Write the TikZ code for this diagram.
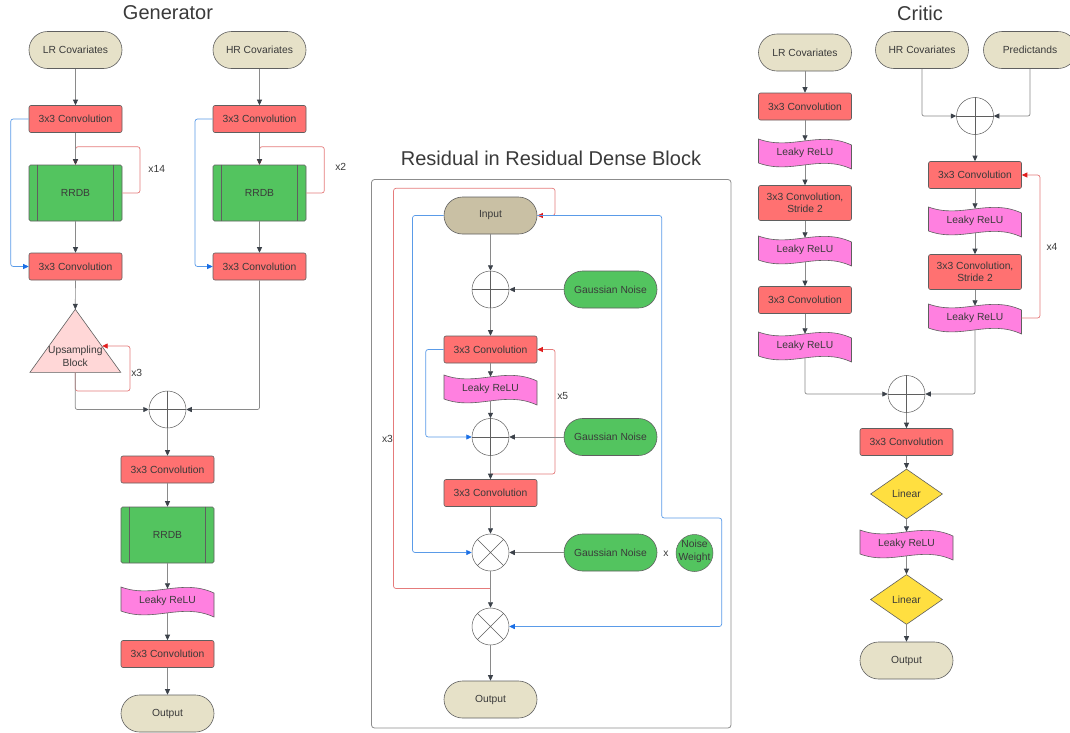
\documentclass[tikz,border=0pt]{standalone}
\usepackage{fontspec}
\setmainfont{Liberation Sans}
\usetikzlibrary{arrows.meta,shapes.geometric,calc}
\definecolor{txt}{HTML}{3A3A3A}
\definecolor{bord}{HTML}{5F5F5F}
\definecolor{beige}{HTML}{E6E1C8}
\definecolor{inputtan}{HTML}{C9C0A4}
\definecolor{convred}{HTML}{FF7171}
\definecolor{rrdbgreen}{HTML}{53C45F}
\definecolor{relupink}{HTML}{FF80E0}
\definecolor{linyellow}{HTML}{FFDF40}
\definecolor{uppink}{HTML}{FFD7D7}
\definecolor{linegray}{HTML}{8A8A8A}
\definecolor{headgray}{HTML}{3C424A}
\definecolor{loopred}{HTML}{E57B7B}
\definecolor{headred}{HTML}{E01E1E}
\definecolor{loopblue}{HTML}{5A9BE8}
\definecolor{headblue}{HTML}{1A6FE6}
\definecolor{framegray}{HTML}{8C8C8C}
\tikzset{
 lbl/.style={font=\fontsize{10.3}{12.4}\selectfont, text=txt},
 box/.style={lbl, draw=bord, line width=0.6pt, minimum width=93pt, inner sep=1pt, align=center},
 conv/.style={box, fill=convred, rounded corners=2pt, minimum height=27pt},
 convtwo/.style={conv, minimum height=35pt},
 pill/.style={box, fill=beige, rounded corners=18.5pt, minimum height=37pt},
 noise/.style={pill, fill=rrdbgreen},
 rrdb/.style={box, fill=rrdbgreen, rounded corners=1.5pt, minimum height=56pt},
 circ/.style={circle, draw=bord, line width=0.5pt, minimum size=37pt, inner sep=0pt},
 crossline/.style={draw=bord, line width=0.5pt},
 lin/.style={diamond, aspect=1.4, draw=bord, fill=linyellow, line width=0.6pt, minimum width=72pt, minimum height=50pt, inner sep=0pt, lbl},
 ttl/.style={font=\fontsize{20}{24}\selectfont, text=txt},
 conn/.style={draw=linegray, line width=0.7pt, rounded corners=2pt, -{Triangle[length=5.5pt,width=5pt,color=headgray]}},
 redloop/.style={draw=loopred, line width=0.7pt, rounded corners=2.5pt, -{Triangle[length=5.5pt,width=5pt,color=headred]}},
 blueloop/.style={draw=loopblue, line width=0.7pt, rounded corners=2.5pt, -{Triangle[length=5.5pt,width=5pt,color=headblue]}},
}
\newcommand\myrelu[3]{%
 \filldraw[fill=relupink, draw=bord, line width=0.6pt]
 ({#2-46.5},{#3-14}) .. controls ({#2-14},{#3-2}) and ({#2+14},{#3-23}) .. ({#2+46.5},{#3-8})
 -- ({#2+46.5},{#3+16}) .. controls ({#2+14},{#3+1}) and ({#2-14},{#3+22}) .. ({#2-46.5},{#3+10}) -- cycle;
 \node[lbl, minimum width=93pt, minimum height=24pt, inner sep=0pt] (#1) at (#2,#3) {Leaky ReLU};}
\newcommand\myrrdblines[1]{%
 \draw[bord, line width=0.6pt] ([xshift=9pt]#1.north west) -- ([xshift=9pt]#1.south west)
   ([xshift=-9pt]#1.north east) -- ([xshift=-9pt]#1.south east);}
\newcommand\myplus[1]{\draw[crossline] (#1.north) -- (#1.south) (#1.west) -- (#1.east);}
\newcommand\mytimes[1]{\draw[crossline] (#1.north west) -- (#1.south east) (#1.north east) -- (#1.south west);}
\begin{document}
\begin{tikzpicture}[x=1pt,y=-1pt]
\useasboundingbox (0,0) rectangle (1070,732);
\clip (0,0) rectangle (1070,732);
\fill[white] (0,0) rectangle (1070,732);

% ---------------- Generator ----------------
\node[ttl] (tg) at (168,13) {Generator};
\node[pill] (glr) at (75.5,50) {LR Covariates};
\node[pill] (ghr) at (259.5,50) {HR Covariates};
\node[conv] (gc1) at (75.5,119) {3x3 Convolution};
\node[conv] (hc1) at (259.5,119) {3x3 Convolution};
\node[rrdb] (gr1) at (75.5,193) {RRDB};
\node[rrdb] (hr1) at (259.5,193) {RRDB};
\myrrdblines{gr1}
\myrrdblines{hr1}
\node[conv] (gc2) at (75.5,266.5) {3x3 Convolution};
\node[conv] (hc2) at (259.5,266.5) {3x3 Convolution};
\filldraw[fill=uppink, draw=bord, line width=0.6pt] (75.3,309.3) -- (120.7,372.3) -- (30,372.3) -- cycle;
\coordinate (upa) at (75.3,309.3);
\coordinate (upb) at (75.3,372.3);
\coordinate (upr) at (102.2,346);
\node[lbl, align=center] (upt) at (75.3,356.5) {Upsampling\\Block};
\node[circ] (gp) at (167.5,409.5) {};
\myplus{gp}
\node[conv] (gc3) at (167.5,469.5) {3x3 Convolution};
\node[rrdb] (gr2) at (167.5,535) {RRDB};
\myrrdblines{gr2}
\myrelu{grl}{167.5}{601}
\node[conv] (gc4) at (167.5,654) {3x3 Convolution};
\node[pill] (gout) at (167.5,713.5) {Output};

\draw[redloop] (gr1.east) -- (140,193) -- (140,146.7) -- (75.5,146.7) -- (gr1.north);
\draw[redloop] (hr1.east) -- (324.3,193) -- (324.3,146.7) -- (259.5,146.7) -- (hr1.north);
\draw[redloop] (upb) -- (75.3,391) -- (130,391) -- (130,346) -- (upr);
\draw[blueloop] (gc1.west) -- (10.7,119) -- (10.7,266.5) -- (gc2.west);
\draw[blueloop] (hc1.west) -- (195,119) -- (195,266.5) -- (hc2.west);
\draw[conn] (glr) -- (gc1);
\draw[conn] (ghr) -- (hc1);
\draw[conn] (gc1) -- (gr1);
\draw[conn] (hc1) -- (hr1);
\draw[conn] (gr1) -- (gc2);
\draw[conn] (hr1) -- (hc2);
\draw[conn] (gc2) -- (upa);
\draw[conn] (upb) |- (gp.west);
\draw[conn] (hc2.south) |- (gp.east);
\draw[conn] (gp) -- (gc3);
\draw[conn] (gc3) -- (gr2);
\draw[conn] (gr2) -- (grl);
\draw[conn] (grl) -- (gc4);
\draw[conn] (gc4) -- (gout);
\node[lbl] (g14) at (156.7,169) {x14};
\node[lbl] (g2) at (340.7,167) {x2};
\node[lbl] (g3) at (136.7,372.7) {x3};

% ---------------- Residual in Residual Dense Block ----------------
\node[ttl] (tr) at (551,158) {Residual in Residual Dense Block};
\node[draw=framegray, line width=0.8pt, rounded corners=3pt, minimum width=359.5pt, minimum height=548.5pt, inner sep=0pt] (frame) at (551.25,453.75) {};
\node[pill, fill=inputtan] (rin) at (490.5,215.5) {Input};
\node[circ] (rp1) at (490.5,289.5) {};
\myplus{rp1}
\node[noise] (rn1) at (610.5,289.5) {Gaussian Noise};
\node[conv] (rc1) at (490.5,349.5) {3x3 Convolution};
\myrelu{rrl}{490.5}{389}
\node[circ] (rp2) at (490.5,437) {};
\myplus{rp2}
\node[noise] (rn2) at (610.5,437) {Gaussian Noise};
\node[conv] (rc2) at (490.5,493) {3x3 Convolution};
\node[circ] (rm1) at (490.5,552.5) {};
\mytimes{rm1}
\node[noise] (rn3) at (610.5,552.5) {Gaussian Noise};
\node[lbl] (rx) at (666,554) {x};
\node[circ, fill=rrdbgreen] (rnw) at (694.5,553) {};
\node[lbl, align=center] (rnwt) at (694.5,551.5) {Noise\\Weight};
\node[circ] (rm2) at (490.5,626.5) {};
\mytimes{rm2}
\node[pill] (rout) at (490.5,699.5) {Output};
\coordinate (rj1) at (490.5,474);
\coordinate (rj2) at (490.5,588.5);

\draw[blueloop] (rc1.west) -- (425.7,349.5) -- (425.7,437) -- (rp2.west);
\draw[redloop] (rj1) -- (555,474) -- (555,349.5) -- (rc1.east);
\draw[blueloop] (rin.west) -- (412.5,215.5) -- (412.5,552.5) -- (rm1.west);
\draw[redloop] (rj2) -- (393.5,588.5) -- (393.5,188.3) -- (555,188.3) -- (555,215.5) -- (rin.east);
\draw[blueloop] (rin.east) -- (661.7,215.5) -- (661.7,518) -- (721.7,518) -- (721.7,626.5) -- (rm2.east);
\draw[conn] (rin) -- (rp1);
\draw[conn] (rn1) -- (rp1);
\draw[conn] (rp1) -- (rc1);
\draw[conn] (rc1) -- (rrl);
\draw[conn] (rrl) -- (rp2);
\draw[conn] (rn2) -- (rp2);
\draw[conn] (rp2) -- (rc2);
\draw[conn] (rc2) -- (rm1);
\draw[conn] (rn3) -- (rm1);
\draw[conn] (rm1) -- (rm2);
\draw[conn] (rm2) -- (rout);
\node[lbl] (r5) at (562.7,395.7) {x5};
\node[lbl] (r3) at (387.5,438.7) {x3};

% ---------------- Critic ----------------
\node[ttl] (tc) at (920,13) {Critic};
\node[pill] (clr) at (805,52.5) {LR Covariates};
\node[pill] (chr) at (922,50) {HR Covariates};
\node[pill] (cpr) at (1030,50) {Predictands};
\node[conv] (cl1) at (805,106.5) {3x3 Convolution};
\myrelu{cl2}{805}{153}
\node[convtwo] (cl3) at (805,203) {3x3 Convolution,\\Stride 2};
\myrelu{cl4}{805}{250}
\node[conv] (cl5) at (805,300) {3x3 Convolution};
\myrelu{cl6}{805}{346}
\node[circ] (cp1) at (975,116) {};
\myplus{cp1}
\node[conv] (cr1) at (975,175) {3x3 Convolution};
\myrelu{cr2}{975}{221}
\node[convtwo] (cr3) at (975,272) {3x3 Convolution,\\Stride 2};
\myrelu{cr4}{975}{318}
\node[circ] (cp2) at (906.5,394) {};
\myplus{cp2}
\node[conv] (cc1) at (906.5,442) {3x3 Convolution};
\node[lin] (cli1) at (906.5,494) {Linear};
\myrelu{crl}{906.5}{544}
\node[lin] (cli2) at (906.5,599.5) {Linear};
\node[pill] (cout) at (906.5,660.5) {Output};

\draw[redloop] (cr4.east) -- (1040,318) -- (1040,175) -- (cr1.east);
\draw[conn] (clr) -- (cl1);
\draw[conn] (cl1) -- (cl2);
\draw[conn] (cl2) -- (cl3);
\draw[conn] (cl3) -- (cl4);
\draw[conn] (cl4) -- (cl5);
\draw[conn] (cl5) -- (cl6);
\draw[conn] (cl6.south) |- (cp2.west);
\draw[conn] (chr.south) |- (cp1.west);
\draw[conn] (cpr.south) |- (cp1.east);
\draw[conn] (cp1) -- (cr1);
\draw[conn] (cr1) -- (cr2);
\draw[conn] (cr2) -- (cr3);
\draw[conn] (cr3) -- (cr4);
\draw[conn] (cr4.south) |- (cp2.east);
\draw[conn] (cp2) -- (cc1);
\draw[conn] (cc1) -- (cli1);
\draw[conn] (cli1) -- (crl);
\draw[conn] (crl) -- (cli2);
\draw[conn] (cli2) -- (cout);
\node[lbl] (c4) at (1052,247) {x4};
\end{tikzpicture}
\end{document}
